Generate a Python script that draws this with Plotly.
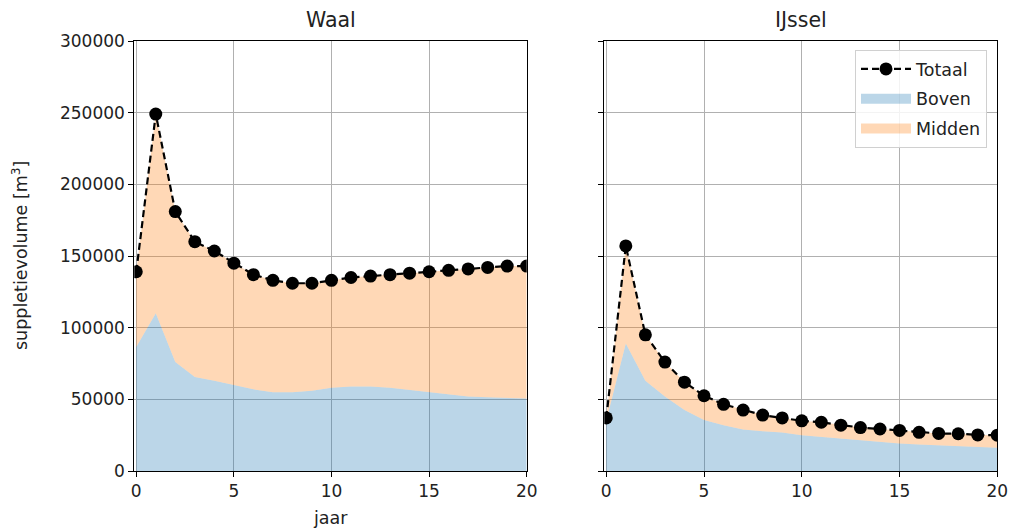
import plotly.graph_objects as go

years = list(range(21))

waal_totaal = [139000, 249000, 181000, 160000, 153500, 145000, 137000, 133000, 131000, 131000,
               133000, 135000, 136000, 137000, 138000, 139000, 140000, 141000, 142000, 143000, 143000]
waal_boven = [86500, 110000, 76000, 65500, 63000, 60000, 57000, 55000, 55000, 56000,
              58000, 59000, 59000, 58000, 56500, 54500, 53000, 52000, 51500, 51000, 50500]
waal_midden = [52500, 139000, 105000, 94500, 90500, 85000, 80000, 78000, 76000, 75000,
               75000, 76000, 77000, 79000, 81500, 84500, 87000, 89000, 90500, 92000, 92500]

ijssel_totaal = [37000, 157000, 95000, 76000, 62000, 52500, 46500, 42500, 39000, 37000,
                 35000, 34000, 32000, 30300, 29300, 28300, 27000, 26200, 26000, 25200, 25000]
ijssel_boven = [35000, 89000, 63000, 52000, 42500, 35500, 32000, 29000, 27700, 26800,
                25000, 23800, 22600, 21400, 20300, 19200, 18500, 18000, 17500, 16800, 16200]
ijssel_midden = [2000, 68000, 32000, 24000, 19500, 17000, 14500, 13500, 11300, 10200,
                 10000, 10200, 9400, 8900, 9000, 9100, 8500, 8200, 8500, 8400, 8800]

y_ticks = [0, 50000, 100000, 150000, 200000, 250000, 300000]
x_ticks = [0, 5, 10, 15, 20]

C_BOVEN = "rgba(31,119,180,0.3)"
C_MIDDEN = "rgba(255,127,14,0.3)"
FONT = "DejaVu Sans"
W, H = 1011, 530
T, B = 41, 59.3
PH = H - T - B

fig = go.Figure()

panels = [
    ("x", "y", waal_boven, waal_midden, waal_totaal, False),
    ("x2", "y2", ijssel_boven, ijssel_midden, ijssel_totaal, True),
]
for xa, ya, boven, midden, totaal, show in panels:
    sg = "s" + xa
    fig.add_trace(go.Scatter(x=years, y=boven, xaxis=xa, yaxis=ya, stackgroup=sg,
                             mode="lines", line=dict(width=0, color=C_BOVEN),
                             fillcolor=C_BOVEN, name="Boven", showlegend=False,
                             hoverinfo="skip"))
    fig.add_trace(go.Scatter(x=years, y=midden, xaxis=xa, yaxis=ya, stackgroup=sg,
                             mode="lines", line=dict(width=0, color=C_MIDDEN),
                             fillcolor=C_MIDDEN, name="Midden", showlegend=False,
                             hoverinfo="skip"))
    fig.add_trace(go.Scatter(x=years, y=totaal, xaxis=xa, yaxis=ya, mode="lines+markers",
                             line=dict(color="black", width=2.2, dash="7px,4px"),
                             marker=dict(color="black", size=13),
                             name="Totaal", showlegend=show, legendgroup="g1"))

# legend-only entries for the filled areas (no data, so nothing is drawn)
fig.add_trace(go.Scatter(x=[None], y=[None], xaxis="x2", yaxis="y2", mode="lines",
                         line=dict(color=C_BOVEN, width=14), name="Boven", legendgroup="g2"))
fig.add_trace(go.Scatter(x=[None], y=[None], xaxis="x2", yaxis="y2", mode="lines",
                         line=dict(color=C_MIDDEN, width=14), name="Midden", legendgroup="g3"))

axis_common = dict(showline=True, linecolor="black", linewidth=1, mirror=True,
                   ticks="outside", ticklen=5, tickcolor="black", tickwidth=1,
                   showgrid=True, gridcolor="#b0b0b0", gridwidth=1, zeroline=False,
                   automargin=False,
                   tickfont=dict(family=FONT, size=17, color="#222"))

fig.update_layout(
    width=W, height=H, autosize=False,
    margin=dict(l=0, r=0, t=T, b=B, pad=0, autoexpand=False),
    paper_bgcolor="white", plot_bgcolor="white",
    font=dict(family=FONT, color="#222"),
    xaxis=dict(domain=[134.3 / W, 526.7 / W], range=[-0.1, 20], tickvals=x_ticks, **axis_common),
    xaxis2=dict(domain=[604.3 / W, 997.3 / W], range=[-0.1, 20], tickvals=x_ticks, **axis_common),
    yaxis=dict(domain=[0, 1], range=[0, 300000], tickvals=y_ticks,
               ticktext=[str(v) for v in y_ticks], anchor="x", **axis_common),
    yaxis2=dict(domain=[0, 1], range=[0, 300000], tickvals=y_ticks,
                showticklabels=False, anchor="x2", **axis_common),
    showlegend=True,
    legend=dict(x=987 / W, xanchor="right", y=(H - B - 50) / PH, yanchor="top",
                bgcolor="rgba(255,255,255,0.85)", bordercolor="#d0d0d0", borderwidth=1,
                font=dict(family=FONT, size=17.5, color="#222"),
                tracegroupgap=4, itemwidth=50, traceorder="grouped"),
    annotations=[
        dict(text="Waal", x=330.5 / W, y=(H - B - 20) / PH, xref="paper", yref="paper",
             xanchor="center", yanchor="middle", showarrow=False,
             font=dict(family=FONT, size=20.5, color="#222")),
        dict(text="IJssel", x=800.8 / W, y=(H - B - 20) / PH, xref="paper", yref="paper",
             xanchor="center", yanchor="middle", showarrow=False,
             font=dict(family=FONT, size=20.5, color="#222")),
        dict(text="jaar", x=330.5 / W, y=(H - B - 518) / PH, xref="paper", yref="paper",
             xanchor="center", yanchor="middle", showarrow=False,
             font=dict(family=FONT, size=17.5, color="#222")),
        dict(text="suppletievolume [m<sup>3</sup>]", x=20 / W, y=0.5, xref="paper", yref="paper",
             xanchor="center", yanchor="middle", showarrow=False, textangle=-90,
             font=dict(family=FONT, size=17.5, color="#222")),
    ],
)

fig.write_html("out.html", config={"responsive": False})
